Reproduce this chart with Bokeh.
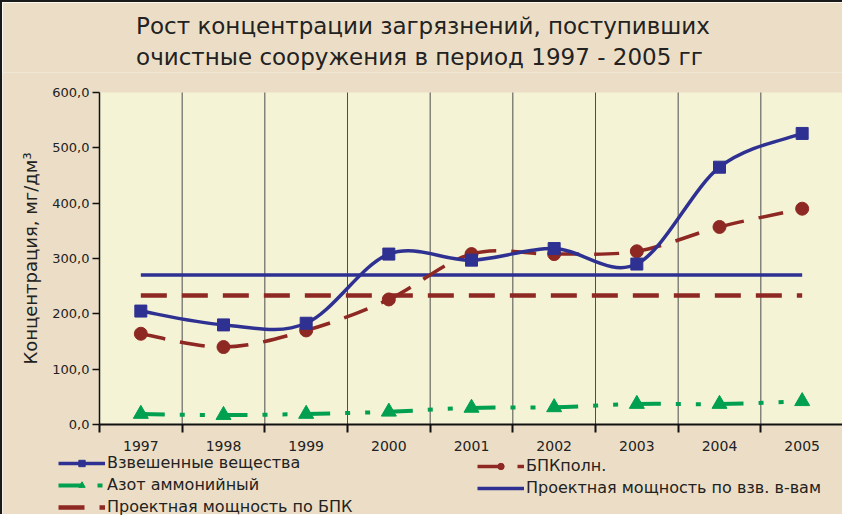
from bokeh.plotting import figure
from bokeh.models import (FixedTicker, Legend, LegendItem, Range1d, ColumnDataSource,
                          LinearAxis, BoxAnnotation)
from bokeh.embed import file_html
from bokeh.resources import INLINE

# ---------------- data ----------------
years = ["1997", "1998", "1999", "2000", "2001", "2002", "2003", "2004", "2005"]
vzv = [205, 180, 183, 308, 297, 318, 290, 465, 526]          # Взвешенные вещества
bpk = [164, 140, 170, 226, 308, 308, 313, 357, 390]          # БПКполн.
azot = [19, 17, 19, 23, 30, 31, 37, 37, 42]                  # Азот аммонийный
proj_vzv = [270, 270, 270, 270, 270, 270, 270, 270, 270]     # Проектная мощность по взв. в-вам
proj_bpk = [233, 233, 233, 233, 233, 233, 233, 233, 233]     # Проектная мощность по БПК
y_ticks = [0, 100, 200, 300, 400, 500, 600]
y_tick_labels = ["0,0", "100,0", "200,0", "300,0", "400,0", "500,0", "600,0"]

title_text = "Рост концентрации загрязнений, поступивших\nочистные сооружения в период 1997 - 2005 гг"
y_label = "Концентрация, мг/дм³"
names = ["Взвешенные вещества", "БПКполн.", "Азот аммонийный",
         "Проектная мощность по взв. в-вам", "Проектная мощность по БПК"]

BLUE = "#2E3192"
RED = "#8E2823"
GREEN = "#00A050"
PAPER = "#ECDEC6"
PLOTBG = "#F5F3D6"
FONT = "DejaVu Sans"

# ---------------- layout (canvas pixels) ----------------
W, H = 842, 514
TOP = 70                    # top of the frame (title above it)
PT, PB = 90, 422            # plot-area top / bottom
PL, PR = 97, 841            # plot-area left / right

xs = list(range(len(years)))
x_lo, x_hi = -0.5, len(years) - 0.5
y_lo, y_hi = y_ticks[0], y_ticks[-1]
ux = (x_hi - x_lo) / (PR - PL)
uy = (y_hi - y_lo) / (PB - PT)
x_start = x_lo - PL * ux
y_start = y_lo - (H - PB) * uy
y_end = y_hi + (PT - TOP) * uy


def smooth_segments(x, y):
    """Bezier control points (Catmull-Rom style smoothing, as in a smoothed line chart)."""
    n = len(x)
    d = dict(x0=[], y0=[], x1=[], y1=[], cx0=[], cy0=[], cx1=[], cy1=[])
    for i in range(n - 1):
        ip = max(i - 1, 0)
        inn = min(i + 2, n - 1)
        d["x0"].append(x[i]); d["y0"].append(y[i])
        d["x1"].append(x[i + 1]); d["y1"].append(y[i + 1])
        d["cx0"].append(x[i] + (x[i + 1] - x[ip]) / 6.0)
        d["cy0"].append(y[i] + (y[i + 1] - y[ip]) / 6.0)
        d["cx1"].append(x[i + 1] - (x[inn] - x[i]) / 6.0)
        d["cy1"].append(y[i + 1] - (y[inn] - y[i]) / 6.0)
    return ColumnDataSource(d)


p = figure(width=W, height=H,
           x_range=Range1d(x_start, x_hi), y_range=Range1d(y_start, y_end),
           x_axis_location=None, y_axis_location=None,
           output_backend="svg", toolbar_location=None,
           min_border_left=0, min_border_right=W - PR, min_border_top=TOP, min_border_bottom=0,
           background_fill_color=PAPER, border_fill_color=PAPER)
p.styles = {"border-top": "2px solid #1a1a1a", "border-left": "2px solid #1a1a1a"}
p.outline_line_color = None
p.xgrid.visible = False
p.ygrid.visible = False

# plot area background
p.add_layout(BoxAnnotation(left=x_lo, right=x_hi, bottom=y_lo, top=y_hi,
                           fill_color=PLOTBG, fill_alpha=1, line_color=None, level="underlay"))

# vertical grid lines at category boundaries
bounds = [i + 0.5 for i in xs]
p.segment(x0=bounds, y0=[y_lo] * len(bounds), x1=bounds, y1=[y_hi] * len(bounds),
          line_color="#4d4d4d", line_width=1)

# title (two lines)
p.title.text = title_text
p.title.align = "center"
p.title.text_font = FONT
p.title.text_font_size = "23px"
p.title.text_font_style = "normal"
p.title.text_color = "#222222"
p.title.text_line_height = 1.2
p.title.standoff = 4

# x axis at y = 0
xa = LinearAxis(fixed_location=y_lo, bounds=(x_lo, x_hi))
xa.ticker = FixedTicker(ticks=xs, minor_ticks=[i - 0.5 for i in range(len(years) + 1)])
xa.major_label_overrides = {i: years[i] for i in xs}
xa.major_tick_out = 0
xa.major_tick_in = 0
xa.minor_tick_out = 8
xa.minor_tick_in = 0
xa.minor_tick_line_color = "#111111"
xa.minor_tick_line_width = 2
xa.axis_line_color = "#111111"
xa.axis_line_width = 2
xa.major_label_standoff = 8
xa.major_label_text_font = FONT
xa.major_label_text_font_size = "14px"
xa.major_label_text_color = "#222222"
p.add_layout(xa, "below")

# y axis at the left edge of the plot area
ya = LinearAxis(fixed_location=x_lo, bounds=(y_lo, y_hi))
ya.ticker = FixedTicker(ticks=y_ticks)
ya.major_label_overrides = {t: l for t, l in zip(y_ticks, y_tick_labels)}
ya.minor_tick_line_color = None
ya.major_tick_out = 7
ya.major_tick_in = 0
ya.major_tick_line_color = "#111111"
ya.major_tick_line_width = 1.5
ya.axis_line_color = "#111111"
ya.axis_line_width = 1.5
ya.major_label_standoff = 3
ya.major_label_text_font = FONT
ya.major_label_text_font_size = "13px"
ya.major_label_text_color = "#222222"
ya.axis_label = y_label
ya.axis_label_text_font = FONT
ya.axis_label_text_font_size = "18px"
ya.axis_label_text_font_style = "normal"
ya.axis_label_text_color = "#222222"
ya.axis_label_standoff = 8
p.add_layout(ya, "left")

# project capacity lines
r_pv = p.line(xs, proj_vzv, line_color=BLUE, line_width=3.5)
r_pb = p.line(xs, proj_bpk, line_color=RED, line_width=4.5, line_dash="26 15")

# smoothed series
bz = dict(x0="x0", y0="y0", x1="x1", y1="y1", cx0="cx0", cy0="cy0", cx1="cx1", cy1="cy1")
r_az = p.bezier(source=smooth_segments(xs, azot), line_color=GREEN, line_width=4,
                line_dash="24 15 5 15 5 15", **bz)
r_bpk = p.bezier(source=smooth_segments(xs, bpk), line_color=RED, line_width=3.5,
                 line_dash="25 15", **bz)
r_vzv = p.bezier(source=smooth_segments(xs, vzv), line_color=BLUE, line_width=3.5, **bz)

m_az = p.scatter(xs, azot, marker="triangle", size=15, color=GREEN)
m_bpk = p.scatter(xs, bpk, marker="circle", size=13, color=RED)
m_vzv = p.scatter(xs, vzv, marker="square", size=12, color=BLUE)

# ---------------- legend (two columns) ----------------
common = dict(orientation="vertical", glyph_width=47, glyph_height=16, label_height=16,
              spacing=3, padding=0, margin=0, border_line_color=None, background_fill_alpha=0,
              label_text_font=FONT, label_text_font_size="16px", label_text_color="#222222",
              label_standoff=2)
leg1 = Legend(items=[LegendItem(label=names[0], renderers=[r_vzv, m_vzv]),
                     LegendItem(label=names[2], renderers=[r_az, m_az]),
                     LegendItem(label=names[4], renderers=[r_pb])],
              location=(56, 0), **common)
leg2 = Legend(items=[LegendItem(label=names[1], renderers=[r_bpk, m_bpk]),
                     LegendItem(label=names[3], renderers=[r_pv])],
              location=(475, 19), **common)
p.add_layout(leg1)
p.add_layout(leg2)

open("out.html", "w").write(file_html(p, INLINE))
